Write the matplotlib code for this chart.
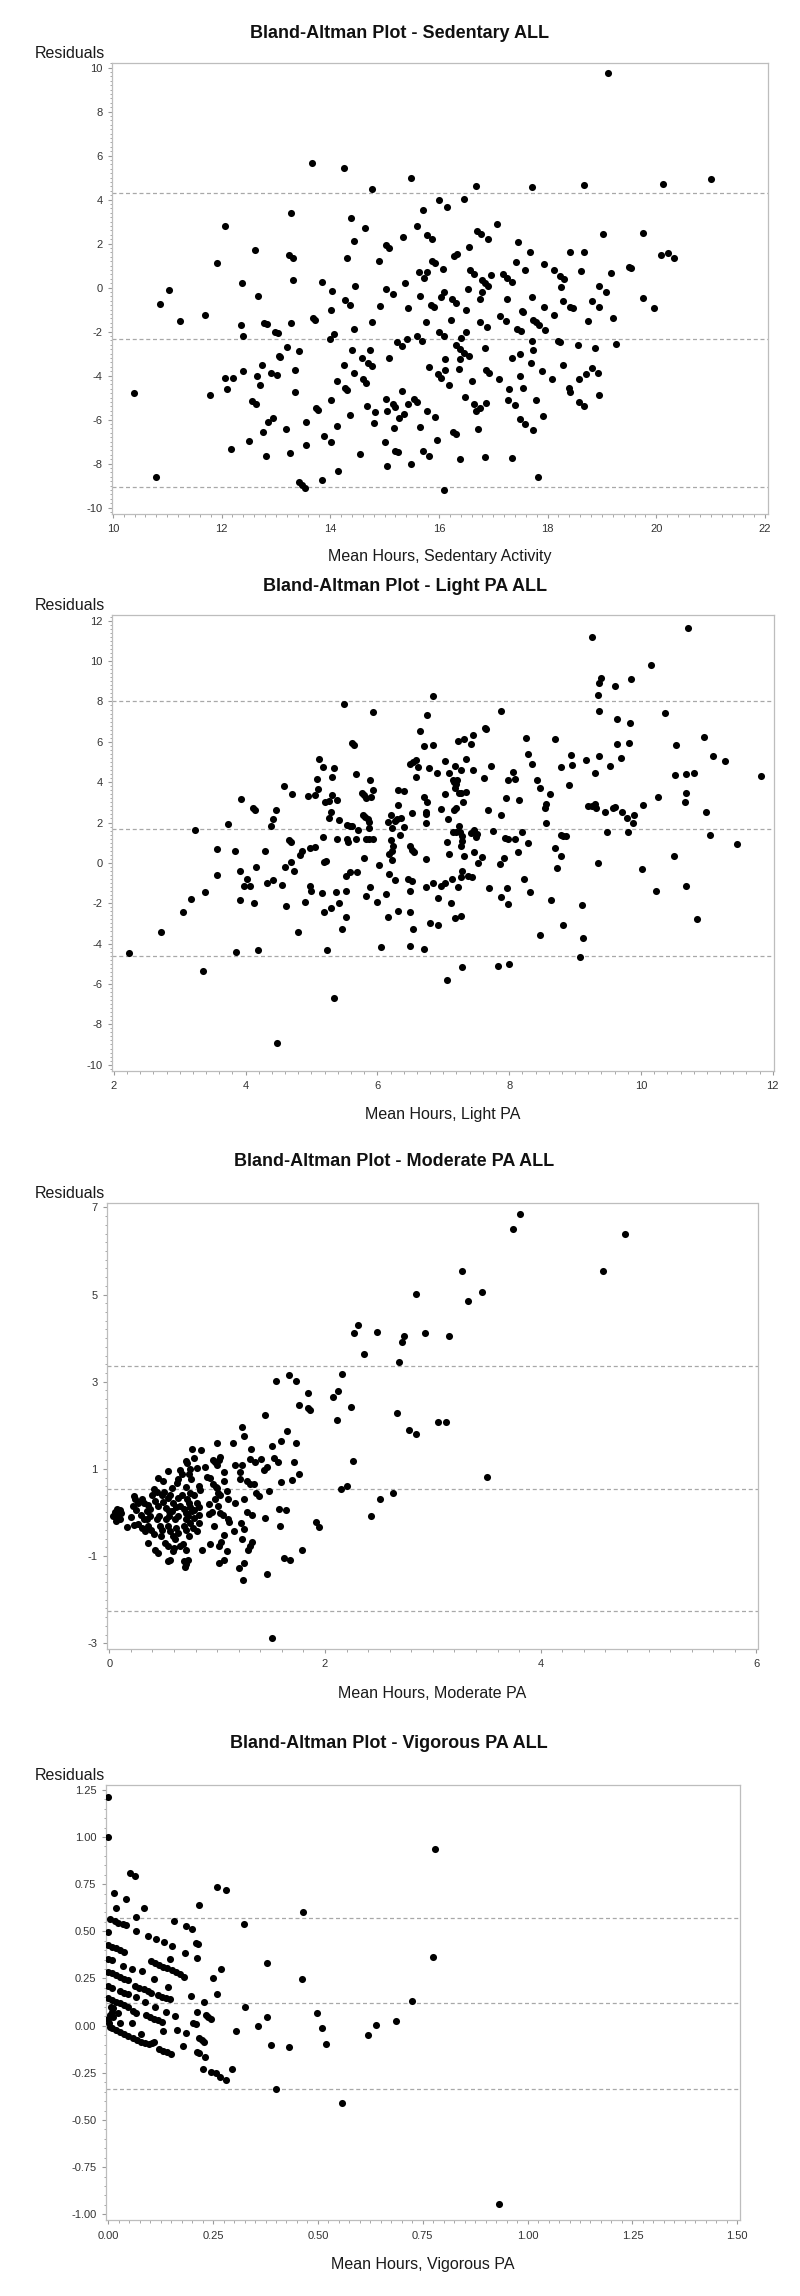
import matplotlib
matplotlib.use("Agg")
import matplotlib.pyplot as plt
from matplotlib import font_manager
from matplotlib.ticker import MultipleLocator, FixedLocator, FormatStrFormatter

# ---------------- data ----------------
sed_x = [10.39, 10.79, 10.86, 11.03, 11.24, 11.69, 11.78, 11.91, 12.06, 12.07, 12.10, 12.18, 12.22, 12.35,
         12.38, 12.39, 12.40, 12.50, 12.56, 12.62, 12.64, 12.66, 12.68, 12.71, 12.75, 12.76, 12.78, 12.81,
         12.84, 12.86, 12.91, 12.95, 12.99, 13.02, 13.04, 13.05, 13.07, 13.19, 13.20, 13.25, 13.26, 13.28,
         13.28, 13.31, 13.31, 13.35, 13.35, 13.42, 13.43, 13.48, 13.54, 13.56, 13.56, 13.66, 13.69, 13.72,
         13.73, 13.78, 13.85, 13.85, 13.88, 14.00, 14.01, 14.02, 14.02, 14.04, 14.07, 14.13, 14.13, 14.15,
         14.25, 14.25, 14.27, 14.28, 14.31, 14.31, 14.37, 14.37, 14.39, 14.40, 14.43, 14.43, 14.43, 14.46,
         14.55, 14.59, 14.64, 14.67, 14.60, 14.65, 14.69, 14.74, 14.76, 14.76, 14.77, 14.81, 14.82, 14.90,
         14.91, 15.01, 15.02, 15.02, 15.02, 15.05, 15.09, 15.09, 15.05, 15.16, 15.16, 15.17, 15.20, 15.20,
         15.24, 15.23, 15.26, 15.32, 15.32, 15.34, 15.36, 15.37, 15.41, 15.43, 15.43, 15.48, 15.49, 15.54,
         15.59, 15.59, 15.60, 15.63, 15.65, 15.65, 15.69, 15.70, 15.70, 15.73, 15.76, 15.78, 15.79, 15.81,
         15.79, 15.81, 15.87, 15.86, 15.91, 15.87, 15.92, 15.93,
         19.11, 21.00, 20.13, 18.67, 17.72, 16.69, 16.00, 16.15, 16.46, 17.06, 16.70, 16.77, 16.90, 19.02,
         19.75, 17.46, 16.55, 16.28, 16.33, 17.67, 18.41, 18.67, 20.09, 20.22, 20.32, 17.41, 17.94, 16.07,
         18.11, 18.22, 18.31, 16.58, 16.65, 17.59, 18.61, 19.50, 19.54, 19.16, 16.95, 16.80, 16.85, 16.91,
         17.18, 17.26, 17.35, 16.54, 16.79, 18.24, 18.95, 19.08, 16.10, 16.04, 16.24, 16.32, 16.75, 17.25,
         17.72, 18.28, 18.42, 18.47, 18.81, 18.94, 19.75, 19.95, 16.50, 16.23, 17.13, 17.23, 16.89, 16.76,
         17.53, 17.55, 17.73, 17.79, 17.84, 17.96, 17.94, 18.12, 18.74, 19.20, 17.44, 17.51, 16.00, 16.09,
         15.98, 16.04, 16.19, 16.11, 16.11, 16.40, 16.32, 16.39, 16.46, 16.56, 16.38, 16.37, 16.84, 16.86,
         16.93, 17.10, 17.34, 17.50, 17.50, 17.54, 17.72, 17.73, 17.70, 17.89, 18.08, 18.19, 18.22, 18.29,
         18.40, 18.42, 18.55, 18.87, 19.26, 18.58, 18.71, 18.81, 18.93, 18.95, 18.58, 18.67, 17.79, 17.91,
         17.29, 17.28, 17.40, 17.49, 17.59, 17.73, 16.61, 16.48, 16.64, 16.69, 16.76, 16.87, 16.71, 15.96,
         16.25, 16.31, 16.38, 16.84, 17.35, 17.82, 16.10, 16.50]
sed_y = [-4.81, -8.59, -0.75, -0.11, -1.51, -1.25, -4.90, 1.13, -4.13, 2.82, -4.59, -7.35, -4.10, -1.72,
         0.19, -3.79, -2.19, -6.97, -5.14, 1.72, -5.28, -4.00, -0.40, -4.43, -3.54, -6.55, -1.59, -7.65,
         -1.66, -6.09, -3.88, -5.91, -2.01, -3.99, -2.08, -3.11, -3.14, -6.43, -2.72, 1.48, -7.52, 3.41,
         -1.60, 1.36, 0.36, -3.75, -4.73, -2.90, -8.86, -8.97, -9.09, -6.12, -7.14, 5.67, -1.37, -1.48,
         -5.47, -5.56, 0.26, -8.76, -6.75, -2.35, -1.04, -7.02, -5.11, -0.14, -2.10, -4.26, -6.29, -8.33,
         5.44, -3.54, -4.58, -0.57, 1.34, -4.64, -0.77, -5.79, 3.16, -2.82, 2.11, -3.88, -1.88, 0.07,
         -7.56, -3.20, 2.69, -5.37, -4.14, -4.35, -3.43, -2.82, -3.55, -1.55, 4.49, -6.17, -5.65, 1.20,
         -0.83, -7.02, 1.93, -5.06, -0.07, -5.62, 1.81, -3.19, -8.12, -0.31, -5.29, -6.37, -5.41, -7.43,
         -7.49, -2.46, -5.91, -2.66, -4.69, 2.28, -5.75, 0.23, -2.35, -0.92, -5.28, 4.99, -8.03, -5.08,
         -5.19, 2.79, -2.22, 0.70, -0.36, -6.34, -2.41, 3.55, -7.43, 0.45, -1.55, -5.59, 2.40, -7.64,
         0.70, -3.60, 2.19, -0.81, -0.87, 1.22, 1.13, -5.90,
         9.74, 4.94, 4.73, 4.66, 4.56, 4.61, 3.97, 3.67, 4.02, 2.87, 2.58, 2.43, 2.20, 2.45,
         2.49, 2.05, 1.85, 1.42, 1.54, 1.64, 1.64, 1.64, 1.48, 1.55, 1.36, 1.17, 1.08, 0.84,
         0.79, 0.54, 0.37, 0.78, 0.64, 0.78, 0.75, 0.95, 0.87, 0.66, 0.57, 0.33, 0.23, 0.08,
         0.61, 0.42, 0.26, -0.08, -0.19, 0.01, 0.08, -0.19, -0.19, -0.42, -0.54, -0.72, -0.54, -0.52,
         -0.45, -0.61, -0.87, -0.95, -0.61, -0.90, -0.48, -0.95, -1.04, -1.46, -1.29, -1.51, -1.79, -1.55,
         -1.07, -1.12, -1.48, -1.58, -1.70, -1.95, -0.90, -1.26, -1.51, -1.37, -1.90, -1.99, -2.04, -2.20,
         -3.93, -4.10, -4.43, -3.23, -3.75, -2.31, -2.63, -2.79, -2.96, -3.10, -3.26, -3.72, -2.73, -3.73,
         -3.87, -4.16, -3.19, -3.02, -4.04, -4.58, -2.41, -2.82, -3.44, -3.78, -4.16, -2.41, -2.49, -3.52,
         -4.55, -4.76, -2.60, -2.73, -2.55, -4.16, -3.91, -3.67, -3.87, -4.88, -5.19, -5.37, -5.11, -5.82,
         -4.63, -5.09, -5.32, -5.99, -6.18, -6.47, -4.25, -4.97, -5.29, -5.61, -5.49, -5.25, -6.43, -6.93,
         -6.55, -6.64, -7.77, -7.68, -7.73, -8.62, -9.21, -2.01]
sed_limits = [4.32, -2.35, -9.05]

light_x = [2.23, 2.71, 3.05, 3.17, 3.24, 3.35, 3.38, 3.57, 3.57, 3.74, 3.84, 3.86, 3.92, 3.92, 3.93, 3.98,
           4.06, 4.02, 4.12, 4.15, 4.13, 4.16, 4.19, 4.29, 4.32, 4.38, 4.42, 4.46, 4.42, 4.48, 4.55, 4.58,
           4.60, 4.62, 4.66, 4.69, 4.69, 4.71, 4.73, 4.79, 4.82, 4.86, 4.90, 4.94, 4.98, 5.00, 4.98, 5.05,
           5.06, 5.08, 5.10, 5.12, 5.16, 5.17, 5.18, 5.19, 5.22, 5.19, 5.20, 5.23, 5.26, 5.26, 5.30, 5.31,
           5.31, 5.34, 5.30, 5.34, 5.37, 5.39, 5.41, 5.39, 5.41, 5.47, 5.49, 5.52, 5.53, 5.54, 5.58, 5.62,
           5.54, 5.56, 5.52, 5.59, 5.62, 5.65, 5.68, 5.68, 5.69, 5.70, 5.76, 5.79, 5.78, 5.81, 5.80, 5.82,
           5.82, 5.85, 5.87, 5.87, 5.83, 5.88, 5.93, 5.89, 5.89, 5.93, 5.90, 5.93, 6.00, 6.02, 6.05, 6.13,
           6.16, 6.16, 6.20, 6.22, 6.21, 6.23, 6.22, 6.18, 6.22, 6.26, 6.30, 6.32, 6.32, 6.40, 6.34, 6.36,
           6.40, 6.17, 6.26, 6.32, 6.49, 6.50, 6.49, 6.47, 6.52, 6.50, 6.53, 6.55, 6.52, 6.50, 6.54, 6.58,
           6.58, 6.54, 6.62, 6.65, 6.70, 6.70, 6.71, 6.73, 6.74, 6.74, 6.73, 6.76, 6.76, 6.74, 6.80, 6.78,
           6.85, 6.85, 6.85, 6.90,
           10.71, 9.26, 10.15, 9.39, 9.37, 9.61, 9.85, 9.34, 9.36, 7.87, 9.63, 9.83, 10.36, 7.63, 7.65, 8.26,
           8.69, 9.63, 9.82, 10.53, 10.95, 11.09, 11.28, 11.82, 8.94, 9.16, 9.37, 9.70, 9.53, 9.30, 8.96,
           8.79, 8.91, 8.29, 8.35, 8.42, 8.46, 8.62, 8.56, 8.55, 8.56, 8.69, 8.73, 8.78, 8.78, 8.82, 8.86,
           8.64, 8.82, 8.46, 9.10, 9.12, 9.08, 9.20, 9.25, 9.30, 9.31, 9.46, 9.58, 9.61, 9.71, 9.79, 9.89,
           9.88, 9.81, 9.49, 9.35, 10.02, 10.03, 10.26, 10.23, 10.50, 10.52, 10.68, 10.67, 10.69, 10.80,
           10.69, 10.85, 10.98, 11.04, 11.46, 7.02, 7.08, 7.18, 7.27, 7.23, 7.31, 7.34, 7.45, 7.42, 7.45,
           7.62, 7.73, 7.14, 7.17, 7.20, 7.21, 7.18, 7.24, 7.27, 7.35, 7.30, 7.03, 6.96, 7.16, 7.19, 7.07,
           7.14, 7.19, 7.24, 7.26, 7.28, 7.28, 7.27, 7.05, 7.09, 7.31, 7.29, 7.27, 7.13, 7.03, 6.97, 7.22,
           6.92, 7.11, 6.92, 7.18, 7.27, 7.28, 7.05, 7.42, 7.47, 7.51, 7.49, 7.47, 7.53, 7.59, 7.38, 7.43,
           7.68, 7.75, 7.69, 7.87, 7.86, 7.87, 7.92, 7.94, 7.98, 7.95, 7.98, 8.06, 8.09, 7.97, 7.98, 7.99,
           7.83, 8.09, 8.14, 8.15, 8.20, 8.22, 8.29, 8.31]
light_y = [-4.47, -3.45, -2.41, -1.80, 1.64, -5.35, -1.43, 0.68, -0.58, 1.93, 0.58, -4.42, -0.39, -1.85, 3.15, -1.14,
           -1.14, -0.81, 2.74, 2.64, -1.98, -0.21, -4.32, 0.61, -1.01, 1.83, 2.16, 2.64, -0.87, -8.94, -1.10, 3.80,
           -0.21, -2.13, 1.12, 1.02, 0.02, 3.42, -0.41, -3.45, 0.40, 0.60, -1.96, 3.32, -1.14, -1.40, 0.73, 3.34,
           0.78, 4.14, 3.65, 5.15, -1.47, 1.27, 4.74, 0.03, 0.11, -2.41, 3.00, -4.32, 3.09, 2.23, 2.54, 3.34,
           4.28, 4.71, -2.23, -6.70, -1.43, 3.10, 2.13, 1.17, -1.98, -3.28, 7.86, -1.38, -2.66, 1.88, 1.85, 1.83,
           1.19, 1.02, -0.63, -0.46, 5.96, 5.86, 4.42, 1.19, -0.44, 1.64, 3.45, 3.37, 2.35, 2.26, 0.25, 3.20,
           -1.62, 2.15, 2.05, 1.72, 1.17, 1.17, 1.17, -1.22, 4.13, 3.60, 3.27, 7.49, -1.95, -0.11, -4.17, -1.52,
           -2.69, 2.05, 2.38, 1.75, 1.14, 0.86, 0.61, 0.46, 0.15, 2.08, 2.18, 2.87, 3.62, 3.58, 1.40, 2.21,
           1.77, -0.56, -0.86, -2.38, -4.14, -2.41, -1.40, -0.82, -0.92, 0.84, 0.64, 0.53, 2.49, 4.90, 5.02, 5.10,
           4.26, -3.30, 4.74, 6.52, 5.79, 3.25, -4.27, 2.54, 2.41, 1.97, 0.17, 3.02, 7.31, -1.19, -2.99, 4.71,
           8.29, 5.86, -1.01, 4.47,
           11.65, 11.19, 9.79, 9.14, 8.91, 8.75, 9.13, 8.32, 7.54, 7.54, 7.13, 6.93, 7.41, 6.70, 6.64, 6.19,
           6.14, 5.88, 5.93, 5.83, 6.22, 5.30, 5.04, 4.33, 5.35, 5.12, 5.30, 5.20, 4.79, 4.46, 4.87,
           4.74, 3.85, 5.40, 4.92, 4.09, 3.70, 3.43, 2.91, 2.74, 1.98, 0.73, -0.26, 0.36, 1.39, 1.34, 1.32,
           -1.85, -3.10, -3.56, -2.08, -3.71, -4.65, 2.81, 2.81, 2.91, 2.72, 2.54, 2.74, 2.77, 2.54, 2.21, 2.35,
           2.00, 1.55, 1.52, -0.02, -0.31, 2.87, 3.25, -1.37, 0.35, 4.37, 3.48, 3.04, 4.41, 4.46,
           -1.14, -2.77, 2.54, 1.39, 0.93, 5.07, 4.46, 4.79, 4.62, 6.04, 6.14, 5.15, 4.61, 5.91, 6.34,
           4.23, 4.79, 4.09, 4.03, 3.93, 4.13, 3.73, 3.48, 3.45, 3.53, 3.00, 3.43, 2.69, 2.64, 2.71, 2.18,
           1.52, 1.54, 1.83, 1.55, 1.34, 1.09, 0.86, 1.01, 0.43, 0.36, -0.38, -0.68, -0.79, -1.02, -1.14, -1.19,
           -1.75, -1.98, -3.07, -2.74, -2.61, -5.16, -5.82, 1.50, 1.62, 1.42, 1.27, 0.55, -0.02, 0.27, -0.63, -0.68,
           2.64, 1.60, -1.24, 2.39, -0.08, -1.71, 0.25, 1.22, 1.17, 3.20, 4.09, 4.52, 4.16, -1.25, -2.05, -5.02,
           -5.12, 1.17, 0.53, 3.10, 1.55, -0.82, 0.99, -1.42]
light_limits = [8.01, 1.67, -4.64]

mod_x = [3.81, 3.74, 4.78, 4.58, 3.27, 2.84, 3.46, 3.33, 2.31, 2.27, 2.48, 2.73, 2.71, 2.93, 3.15, 2.36,
         2.69, 2.16, 2.12, 2.07, 2.24, 2.11, 2.67, 2.78, 2.84, 3.05, 3.12, 2.26, 3.50, 2.15, 2.20, 2.63,
         2.51, 2.43, 1.67,
         1.55, 1.73, 1.76, 1.84, 1.84, 1.86, 1.44, 1.23, 1.25, 1.65, 1.59, 1.73, 1.51, 1.00, 1.15, 0.77,
         0.85, 1.31, 1.41, 1.30, 1.35, 1.17, 1.23, 1.43, 1.46, 1.53, 1.56, 1.71, 1.76, 1.69, 1.59, 1.48,
         1.21, 1.21, 1.28, 1.30, 1.34, 1.36, 1.39, 1.25, 1.17, 1.28, 1.32, 1.44, 1.57, 1.64, 1.58, 1.22,
         1.25, 1.16, 1.23, 1.32, 1.30, 1.29, 1.92, 1.94, 1.79, 1.62, 1.68, 1.46, 1.24, 1.25, 1.20, 1.51,
         0.96, 0.98, 1.00, 1.03, 1.02, 1.06, 0.89, 0.93, 0.91, 1.09, 1.10, 1.06, 0.96, 0.99, 1.01, 0.98,
         1.03, 1.00, 0.92, 1.01, 0.95, 0.92, 1.03, 1.05, 1.10, 1.11, 0.97, 1.06, 1.04, 1.02, 1.09, 0.93,
         0.86, 1.06, 1.02, 0.79, 0.71, 0.72, 0.75, 0.74, 0.76, 0.66, 0.67, 0.64, 0.81, 0.83, 0.84, 0.79,
         0.54, 0.45, 0.50, 0.63, 0.58, 0.71, 0.75, 0.41, 0.44, 0.40, 0.49, 0.51, 0.54, 0.56, 0.64, 0.67,
         0.72, 0.74, 0.81, 0.83, 0.79, 0.23, 0.24, 0.27, 0.30, 0.32, 0.22, 0.25, 0.36, 0.38, 0.35, 0.42,
         0.45, 0.50, 0.53, 0.55, 0.59, 0.62, 0.58, 0.66, 0.69, 0.71, 0.75, 0.77, 0.83, 0.79, 0.73, 0.71,
         0.64, 0.61, 0.55, 0.53, 0.46, 0.44, 0.38, 0.35, 0.29, 0.32, 0.27, 0.30, 0.33, 0.36, 0.39, 0.41,
         0.47, 0.49, 0.48, 0.54, 0.56, 0.59, 0.62, 0.64, 0.61, 0.69, 0.71, 0.74, 0.78, 0.81, 0.83, 0.75,
         0.36, 0.42, 0.45, 0.52, 0.54, 0.60, 0.59, 0.66, 0.68, 0.71, 0.56, 0.54, 0.69, 0.71, 0.73, 0.70,
         0.03, 0.05, 0.07, 0.10, 0.11, 0.10, 0.06, 0.08, 0.16, 0.23, 0.20]
mod_y = [6.84, 6.50, 6.40, 5.53, 5.53, 5.02, 5.06, 4.85, 4.30, 4.11, 4.15, 4.06, 3.92, 4.11, 4.05, 3.64,
         3.45, 3.18, 2.79, 2.66, 2.41, 2.12, 2.29, 1.89, 1.80, 2.08, 2.08, 1.19, 0.82, 0.55, 0.60, 0.44,
         0.31, -0.08, 3.15,
         3.01, 3.01, 2.46, 2.73, 2.40, 2.34, 2.24, 1.95, 1.76, 1.86, 1.65, 1.59, 1.53, 1.59, 1.59, 1.46,
         1.44, 1.46, 1.23, 1.23, 1.15, 1.10, 1.09, 0.98, 1.05, 1.24, 1.15, 1.15, 0.89, 0.74, 0.70, 0.50,
         0.76, 0.94, 0.73, 0.66, 0.66, 0.45, 0.38, 0.31, 0.21, 0.01, -0.05, -0.12, 0.09, 0.05, -0.31, -0.24,
         -0.37, -0.43, -0.60, -0.67, -0.76, -0.85, -0.22, -0.33, -0.85, -1.05, -1.08, -1.41, -1.54, -1.15, -1.27, -2.88,
         1.21, 1.16, 1.10, 1.27, 1.20, 0.92, 1.05, 0.79, 0.82, 0.50, 0.30, 0.72, 0.66, 0.59, 0.45, 0.32,
         0.40, 0.56, 0.19, 0.15, 0.01, -0.04, -0.01, -0.05, -0.16, -0.22, -0.31, -0.52, -0.68, -0.76, -0.89, -0.72,
         -0.86, -1.09, -1.17, 1.26, 1.19, 1.14, 1.00, 0.89, 0.77, 0.98, 0.89, 0.77, 1.02, 0.60, 0.51, 0.41,
         0.95, 0.80, 0.72, 0.68, 0.56, 0.59, 0.45, 0.53, 0.47, 0.41, 0.41, 0.47, 0.34, 0.41, 0.34, 0.39,
         0.30, 0.22, 0.22, 0.13, 0.05, 0.37, 0.30, 0.22, 0.30, 0.21, 0.15, 0.05, 0.18, 0.08, 0.03, 0.26,
         0.16, 0.24, 0.11, 0.03, 0.22, 0.12, 0.03, 0.16, 0.07, -0.02, 0.13, 0.03, -0.05, -0.12, -0.08, -0.16,
         -0.07, -0.16, -0.08, -0.16, -0.07, -0.16, -0.08, -0.16, -0.05, -0.16, -0.27, -0.35, -0.43, -0.31, -0.40, -0.50,
         -0.31, -0.41, -0.54, -0.31, -0.43, -0.53, -0.35, -0.47, -0.60, -0.31, -0.40, -0.54, -0.35, -0.43, -0.24, -0.24,
         -0.69, -0.85, -0.92, -0.69, -0.77, -0.81, -0.89, -0.76, -0.73, -0.86, -1.08, -1.11, -1.11, -1.19, -1.08, -1.24,
         -0.08, 0.01, 0.08, 0.05, -0.02, -0.16, -0.20, -0.08, -0.33, -0.29, -0.10]
mod_limits = [3.35, 0.54, -2.26]

vig_x = [0.0, 0.0, 0.052, 0.064, 0.013, 0.043, 0.019, 0.086, 0.217, 0.260, 0.281, 0.067, 0.067, 0.0,
         0.005, 0.015, 0.024, 0.034, 0.043, 0.157, 0.185, 0.200, 0.095, 0.114, 0.134, 0.152, 0.184, 0.209,
         0.213, 0.211, 0.146, 0.0, 0.009, 0.019, 0.029, 0.038, 0.0, 0.010, 0.034, 0.056, 0.080, 0.103,
         0.112, 0.121, 0.131, 0.141, 0.151, 0.161, 0.171, 0.181, 0.0, 0.010, 0.019, 0.028, 0.038, 0.048,
         0.110, 0.143, 0.0, 0.010, 0.029, 0.038, 0.048, 0.064, 0.074, 0.084, 0.094, 0.103, 0.118, 0.128,
         0.138, 0.147, 0.065, 0.087, 0.0, 0.009, 0.018, 0.028, 0.038, 0.048, 0.112, 0.138, 0.158, 0.090,
         0.100, 0.109, 0.119, 0.129, 0.060, 0.066, 0.006, 0.012, 0.008, 0.004, 0.012, 0.022, 0.029, 0.056,
         0.0, 0.001, 0.003, 0.009, 0.019, 0.028, 0.038, 0.048, 0.058, 0.068, 0.078, 0.088, 0.098, 0.078,
         0.131, 0.104, 0.109, 0.122, 0.131, 0.141, 0.150, 0.165, 0.179, 0.185, 0.201, 0.211, 0.217, 0.224,
         0.229, 0.211, 0.216, 0.231, 0.197, 0.209, 0.229, 0.232, 0.239, 0.245, 0.227, 0.244, 0.256, 0.266,
         0.281, 0.295, 0.305, 0.249, 0.270, 0.260,
         0.780, 0.775, 0.465, 0.323, 0.379, 0.463, 0.327, 0.725, 0.379, 0.358, 0.498, 0.509, 0.519, 0.387,
         0.431, 0.620, 0.639, 0.685, 0.401, 0.557, 0.933]
vig_y = [1.214, 1.0, 0.807, 0.793, 0.701, 0.671, 0.622, 0.625, 0.640, 0.737, 0.719, 0.574, 0.502, 0.498,
         0.564, 0.555, 0.546, 0.537, 0.532, 0.555, 0.528, 0.512, 0.475, 0.459, 0.445, 0.422, 0.387, 0.436,
         0.431, 0.357, 0.353, 0.428, 0.419, 0.410, 0.403, 0.392, 0.355, 0.348, 0.318, 0.300, 0.292, 0.345,
         0.334, 0.323, 0.313, 0.306, 0.293, 0.284, 0.274, 0.260, 0.286, 0.277, 0.269, 0.260, 0.249, 0.242,
         0.246, 0.207, 0.210, 0.201, 0.184, 0.175, 0.168, 0.210, 0.201, 0.193, 0.184, 0.171, 0.163, 0.154,
         0.148, 0.140, 0.150, 0.127, 0.145, 0.136, 0.127, 0.118, 0.110, 0.101, 0.101, 0.074, 0.051, 0.057,
         0.048, 0.037, 0.028, 0.019, 0.080, 0.069, 0.101, 0.092, 0.074, 0.057, 0.048, 0.065, 0.016, 0.012,
         0.034, 0.012, -0.005, -0.014, -0.023, -0.035, -0.044, -0.055, -0.065, -0.076, -0.085, -0.094, -0.099, -0.044,
         -0.027, -0.094, -0.087, -0.125, -0.133, -0.141, -0.150, -0.023, -0.108, -0.041, 0.012, 0.071, -0.067, -0.076,
         -0.085, -0.140, -0.143, -0.164, 0.157, 0.011, 0.127, 0.055, 0.046, 0.037, -0.230, -0.246, -0.253, -0.270,
         -0.288, -0.230, -0.027, 0.251, 0.300, 0.166,
         0.936, 0.362, 0.604, 0.537, 0.334, 0.247, 0.099, 0.133, 0.046, -0.004, 0.069, -0.012, -0.095, -0.104,
         -0.115, -0.051, 0.002, 0.027, -0.336, -0.412, -0.943]
vig_limits = [0.572, 0.118, -0.336]

titles = ["Bland-Altman Plot - Sedentary ALL", "Bland-Altman Plot - Light PA ALL",
          "Bland-Altman Plot - Moderate PA ALL", "Bland-Altman Plot - Vigorous PA ALL"]
xlabels = ["Mean Hours, Sedentary Activity", "Mean Hours, Light PA",
           "Mean Hours, Moderate PA", "Mean Hours, Vigorous PA"]
ylabel = "Residuals"

# ---------------- style / layout ----------------
names = {f.name for f in font_manager.fontManager.ttflist}
FONT = "Liberation Sans Narrow" if "Liberation Sans Narrow" in names else "Liberation Sans"

W, H = 800, 2296
fig = plt.figure(figsize=(W / 100, H / 100), dpi=100)
fig.patch.set_facecolor("white")

panels = [
    dict(x=sed_x, y=sed_y, lim=sed_limits, box=(112, 63, 768, 513.5), xlim=(9.985, 22.055),
         ylim=(-10.27, 10.21), xmaj=FixedLocator(range(10, 23, 2)), xmin=MultipleLocator(0.2),
         ymaj=FixedLocator(range(-10, 11, 2)), ymin=MultipleLocator(0.2), fmt="%d",
         title_y=33, title_x=400, res_y=54, xl_y=557),
    dict(x=light_x, y=light_y, lim=light_limits, box=(111.8, 615.5, 774, 1070.7), xlim=(1.97, 12.018),
         ylim=(-10.30, 12.26), xmaj=FixedLocator(range(2, 13, 2)), xmin=MultipleLocator(0.2),
         ymaj=FixedLocator(range(-10, 13, 2)), ymin=MultipleLocator(0.2), fmt="%d",
         title_y=586, title_x=405, res_y=606, xl_y=1114),
    dict(x=mod_x, y=mod_y, lim=mod_limits, box=(106.7, 1203, 757.5, 1648.5), xlim=(-0.024, 6.01),
         ylim=(-3.12, 7.10), xmaj=FixedLocator([0, 2, 4, 6]), xmin=MultipleLocator(0.2),
         ymaj=FixedLocator([-3, -1, 1, 3, 5, 7]), ymin=MultipleLocator(0.2), fmt="%d",
         title_y=1161, title_x=394, res_y=1194, xl_y=1693),
    dict(x=vig_x, y=vig_y, lim=vig_limits, box=(105.6, 1784.5, 740, 2220), xlim=(-0.0064, 1.5066),
         ylim=(-1.03, 1.278), xmaj=MultipleLocator(0.25), xmin=MultipleLocator(0.025),
         ymaj=MultipleLocator(0.25), ymin=MultipleLocator(0.05), fmt="%.2f",
         title_y=1743, title_x=389, res_y=1775, xl_y=2265),
]

FRAME = "#BDBDBD"
TICKC = "#9A9A9A"
LABC = "#333333"

for i, p in enumerate(panels):
    l, t, r, b = p["box"]
    ax = fig.add_axes([l / W, 1 - b / H, (r - l) / W, (b - t) / H])
    ax.set_xlim(*p["xlim"])
    ax.set_ylim(*p["ylim"])
    for s in ax.spines.values():
        s.set_color(FRAME)
        s.set_linewidth(0.9)
    for v in p["lim"]:
        ax.axhline(v, color="#A8A8A8", lw=0.9, ls=(0, (3.2, 2.2)), zorder=1)
    ax.scatter(p["x"], p["y"], s=26, color="black", linewidths=0, zorder=3)
    ax.xaxis.set_major_locator(p["xmaj"])
    ax.xaxis.set_minor_locator(p["xmin"])
    ax.yaxis.set_major_locator(p["ymaj"])
    ax.yaxis.set_minor_locator(p["ymin"])
    ax.xaxis.set_major_formatter(FormatStrFormatter(p["fmt"]))
    ax.yaxis.set_major_formatter(FormatStrFormatter(p["fmt"]))
    ax.tick_params(which="major", direction="out", length=3.2, width=0.8, color=TICKC,
                   labelsize=8, labelcolor=LABC, pad=3.5)
    ax.tick_params(which="minor", direction="out", length=1.8, width=0.6, color=TICKC)
    ax.tick_params(axis="x", which="major", pad=4.5)
    for lab in ax.get_xticklabels() + ax.get_yticklabels():
        lab.set_fontfamily(FONT)
    ax.set_facecolor("white")

    fig.text(p["title_x"] / W, 1 - p["title_y"] / H, titles[i], ha="center", va="center",
             fontsize=13, fontweight="bold", fontfamily=FONT, color="#111111")
    fig.text(105 / W, 1 - p["res_y"] / H, ylabel, ha="right", va="center",
             fontsize=11.5, fontfamily=FONT, color="#1a1a1a")
    fig.text(((l + r) / 2) / W, 1 - p["xl_y"] / H, xlabels[i], ha="center", va="center",
             fontsize=11.5, fontfamily=FONT, color="#1a1a1a")

fig.savefig("out.png", dpi=100, facecolor="white")
